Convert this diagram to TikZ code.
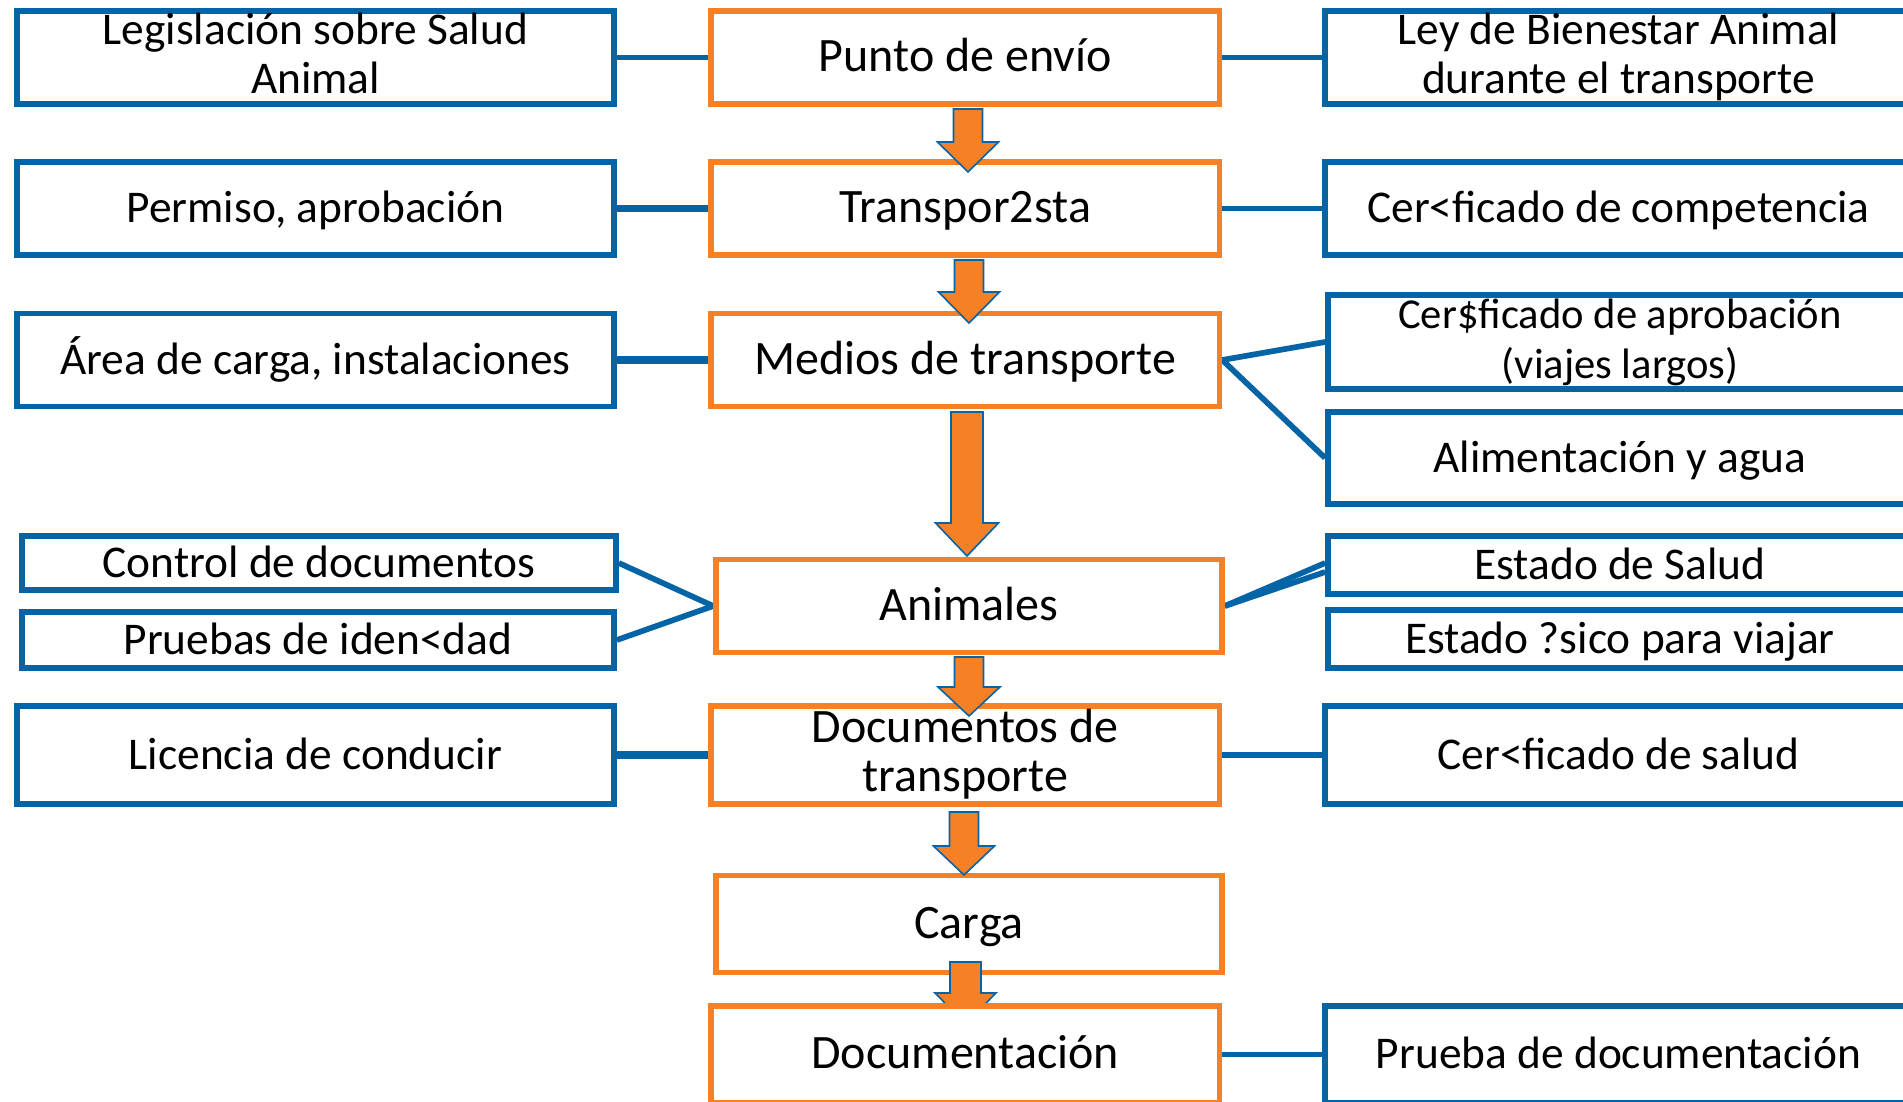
\documentclass[tikz,border=0pt]{standalone}
\usepackage{fontspec}
\setmainfont{Carlito}
\usetikzlibrary{calc}
\definecolor{orng}{HTML}{F58025}
\definecolor{blu}{HTML}{0464A6}
\pgfdeclarelayer{background}
\pgfsetlayers{background,main}
\newcommand\fs{\fontsize{22.7pt}{24.5pt}\selectfont}
\newcommand\fsc{\fontsize{24pt}{24.5pt}\selectfont}
\newcommand\fss{\fontsize{21.3pt}{25pt}\selectfont}
\newcommand\stt{\rule[-4.5pt]{0pt}{20.8pt}}
% block arrow: x centre, top, head base, tip, half shaft, half head
\newcommand\barrow[6]{%
  \draw[blockarr] (#1-#5,#2) -- (#1+#5,#2) -- (#1+#5,#3) -- (#1+#6,#3) -- (#1,#4)
    -- (#1-#6,#3) -- (#1-#5,#3) -- cycle;}
\tikzset{
  bx/.style={draw, line width=2.85pt, fill=white, inner sep=0pt, align=center, font=\fs},
  ob/.style={bx, draw=orng, font=\fsc},
  bb/.style={bx, draw=blu},
  one/.style={text height=18pt, text depth=4pt},
  conn/.style={draw=blu, line width=2.85pt},
  connb/.style={draw=blu, line width=3.85pt},
  blockarr/.style={fill=orng, draw=blu, line width=0.8pt, line join=miter}
}
\begin{document}
\begin{tikzpicture}[x=0.5pt,y=-0.5pt]
\path[use as bounding box] (0,0) rectangle (1903,1102);
\clip (0,0) rectangle (1903,1102);

% left column
\node[bb,minimum width=298.5pt,minimum height=46.5pt] (L1) at (315.5,57.5) {\stt Legislación sobre Salud\\\stt Animal};
\node[bb,one,minimum width=298.5pt,minimum height=46.5pt] (L2) at (315.5,208.5) {Permiso, aprobación};
\node[bb,one,minimum width=298.5pt,minimum height=46.5pt] (L3) at (315.5,360) {Área de carga, instalaciones};
\node[bb,one,minimum width=297pt,minimum height=27pt] (L4) at (319,563) {Control de documentos};
\node[bb,one,minimum width=296pt,minimum height=28pt] (L5) at (318,640) {Pruebas de iden<dad};
\node[bb,one,minimum width=298.5pt,minimum height=49pt] (L6) at (315.5,755) {Licencia de conducir};

% centre column
\node[ob,one,minimum width=254.25pt,minimum height=46.5pt] (C1) at (965.25,57.5) {Punto de envío};
\node[ob,one,minimum width=254.25pt,minimum height=46.5pt] (C2) at (965.25,208.5) {Transpor2sta};
\node[ob,one,minimum width=254.25pt,minimum height=46.5pt] (C3) at (965.25,360) {Medios de transporte};
\node[ob,one,minimum width=253pt,minimum height=46.5pt] (C4) at (969,606) {Animales};
\node[ob,minimum width=254.25pt,minimum height=49pt] (C5) at (965.25,755) {\stt Documentos de\\\stt transporte};
\node[ob,one,minimum width=253pt,minimum height=48.5pt] (C6) at (969,924) {Carga};

% right column
\node[bb,minimum width=293.5pt,minimum height=46.5pt] (R1) at (1618.5,57.5) {\stt Ley de Bienestar Animal\\\stt durante el transporte};
\node[bb,one,minimum width=293.5pt,minimum height=46.5pt] (R2) at (1618.5,208.5) {Cer<ficado de competencia};
\node[bb,font=\fss,minimum width=292pt,minimum height=47pt] (R3) at (1620,342) {\stt Cer\$ficado de aprobación\\\stt (viajes largos)};
\node[bb,one,minimum width=292pt,minimum height=46pt] (R4) at (1620,458) {Alimentación y agua};
\node[bb,one,minimum width=292pt,minimum height=29pt] (R5) at (1620,565) {Estado de Salud};
\node[bb,one,minimum width=292pt,minimum height=29pt] (R6) at (1620,639) {Estado ?sico para viajar};
\node[bb,one,minimum width=293.5pt,minimum height=49pt] (R7) at (1618.5,755) {Cer<ficado de salud};

% block arrows between centre boxes
\barrow{968}{109}{142}{172}{14.5}{30.5}
\barrow{969}{260}{292}{323}{14.5}{30.5}
\barrow{967}{412}{523}{556}{16}{31.5}
\barrow{969}{657}{687}{716}{14.5}{31}
\barrow{964}{812}{846}{875}{14.5}{30.5}
\barrow{965.5}{962}{993}{1024}{15.5}{30.5}

% last row (drawn over the last arrow)
\node[ob,one,minimum width=254.25pt,minimum height=48.5pt] (C7) at (965.25,1054.5) {Documentación};
\node[bb,one,minimum width=293.5pt,minimum height=48.5pt] (R8) at (1618.5,1054.5) {Prueba de documentación};

% connectors, behind the boxes
\begin{pgfonlayer}{background}
\draw[conn] (L1.east) -- (C1.west);
\draw[connb] (L2.east) -- (C2.west);
\draw[connb] (L3.east) -- (C3.west);
\draw[conn] (L4.east) -- (C4.west);
\draw[conn] (L5.east) -- (C4.west);
\draw[connb] (L6.east) -- (C5.west);
\draw[conn] (C1.east) -- (R1.west);
\draw[conn] (C2.east) -- (R2.west);
\draw[conn] (C3.east) -- (R3.west);
\draw[conn] (C3.east) -- (R4.west);
\draw[conn] (C4.east) -- ($(R5.west)+(0,-2)$);
\draw[conn] (C4.east) -- ($(R5.west)+(0,7)$);
\draw[conn] (C5.east) -- (R7.west);
\draw[conn] (C7.east) -- (R8.west);
\end{pgfonlayer}
\end{tikzpicture}
\end{document}
